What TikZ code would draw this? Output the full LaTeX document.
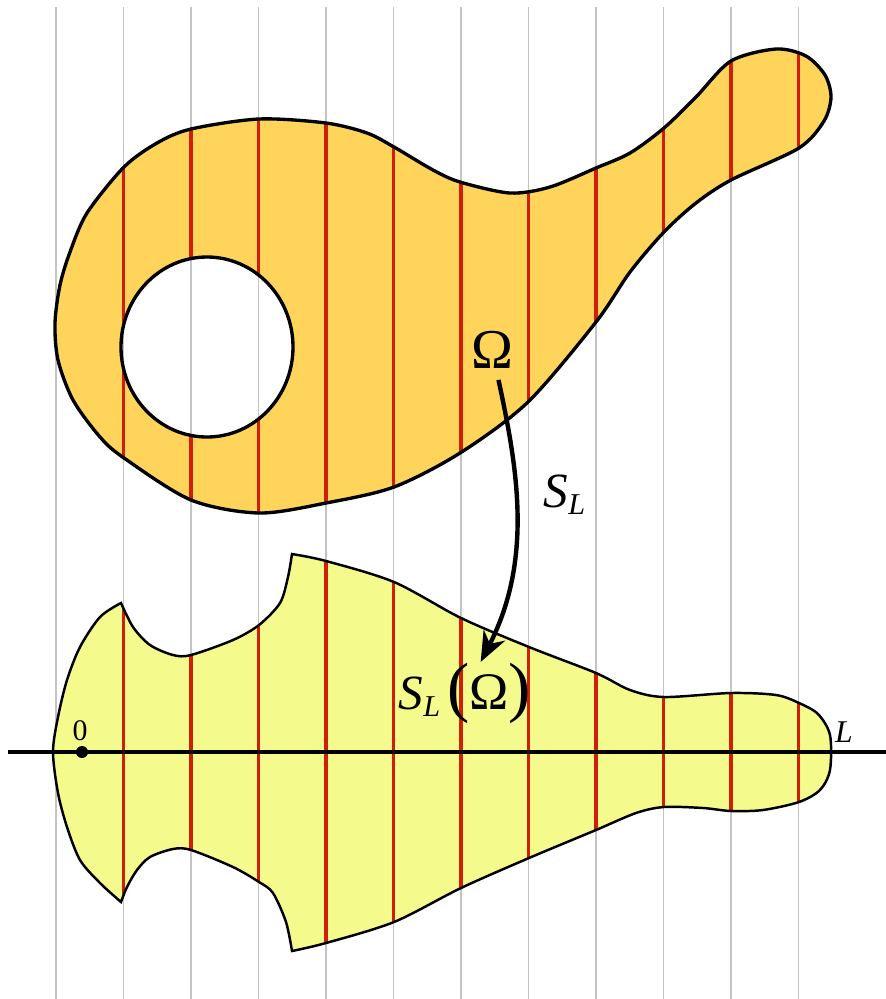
\documentclass[tikz,border=0pt]{standalone}
\usepackage{fontspec}
\setmainfont{Liberation Serif}
\usepackage{xcolor}
\definecolor{omorange}{HTML}{FED45A}
\definecolor{omyellow}{HTML}{F4FB8C}
\definecolor{omred}{HTML}{D01E0A}
\definecolor{omgrid}{HTML}{C4C4C4}
\usetikzlibrary{arrows.meta}

%% outline of Omega and of its image
\def\topshape{plot[smooth cycle] coordinates {(55,323) (60,285) (70,252) (87,213)
  (124,167) (157,143) (191,129) (259,119) (326,123) (367,133) (394,147) (433,170)
  (460,182) (510,193) (550,187) (596,168) (630,153) (664,128) (696,97) (731,61)
  (776,49) (806,56) (825,75) (831,97) (824,121) (799,148) (731,180) (696,203)
  (664,232) (630,272) (596,322) (528,402) (460,453) (394,487) (326,503) (259,513)
  (191,500) (124,458) (100,437) (73,400) (58,360)}}
\def\tophole{(207,347) ellipse [x radius=86, y radius=90]}
\def\botshape{plot[smooth] coordinates {(121,603) (133,627) (150,645) (173,655)
  (191,655) (233,640) (259,625) (280,603) (288,577) (292,554)}
  -- plot[smooth] coordinates {(292,554) (326,561) (394,582) (461,618) (529,647)
  (596,673) (630,690) (664,697) (731,693) (776,695) (799,703) (818,714) (830,735)
  (830,770) (820,790) (799,802) (763,810) (731,811) (703,808) (664,807) (636,813)
  (596,830) (529,858) (461,888) (394,922) (326,943) (292,951)}
  -- plot[smooth] coordinates {(292,951) (286,922) (273,893) (259,882) (233,867)
  (191,850) (173,849) (150,857) (137,870) (127,887) (121,902)}
  -- plot[smooth] coordinates {(121,902) (100,883) (80,860) (67,827) (58,793)
  (53,752) (58,717) (67,680) (80,647) (100,617) (121,603)} -- cycle}

\begin{document}
\begin{tikzpicture}[x=0.01cm, y=-0.01cm,
  gridline/.style={draw=omgrid, line width=0.55pt},
  cutline/.style={draw=omred, line width=1pt},
  outline/.style={draw=black, line width=0.95pt},
  lbl/.style={inner sep=0pt, text=black},
  maparr/.style={-{Stealth[length=0.3cm, width=0.24cm]}, line width=1.25pt}
]
  \useasboundingbox (0,0) rectangle (886,999);

  %% vertical lines
  \foreach \k in {0,...,11}
    \draw[gridline] ({56+67.5*\k},7) -- ({56+67.5*\k},999);

  %% Omega
  \fill[omorange, even odd rule] \topshape \tophole;
  \begin{scope}[even odd rule]
    \clip \topshape \tophole;
    \foreach \k in {1,...,11}
      \draw[cutline] ({56+67.5*\k},0) -- ({56+67.5*\k},999);
  \end{scope}
  \draw[outline] \topshape;
  \draw[outline] \tophole;

  %% S_L(Omega)
  \fill[omyellow] \botshape;
  \begin{scope}
    \clip \botshape;
    \foreach \k in {1,...,11}
      \draw[cutline] ({56+67.5*\k},0) -- ({56+67.5*\k},999);
  \end{scope}
  \draw[outline, line width=0.7pt] \botshape;

  %% axis
  \coordinate (axl) at (8,752);
  \coordinate (axr) at (886,752);
  \draw[line width=1.3pt] (axl) -- (axr);
  \fill (82,752) circle [radius=6];
  \node[lbl, font=\fontsize{8.5}{9}\selectfont] (zero) at (80,731) {0};
  \node[lbl, font=\fontsize{9}{10}\selectfont\itshape] (ell) at (844,732) {L};

  %% labels and map
  \node[lbl, font=\fontsize{16}{18}\selectfont, inner sep=3pt] (om) at (492,350) {Ω};
  \node[lbl, font=\fontsize{14}{16}\selectfont, anchor=base west] (sl) at (543,507)
    {\itshape S\raisebox{-0.35ex}{\fontsize{8.6}{9}\selectfont L}};
  \node[lbl, font=\fontsize{14}{16}\selectfont, anchor=base west] (slo) at (398,709)
    {\itshape S\raisebox{-0.35ex}{\fontsize{8.6}{9}\selectfont L}%
     \upshape\hspace{2pt}{\fontsize{19}{19}\selectfont(}{\fontsize{15}{16}\selectfont Ω}{\fontsize{19}{19}\selectfont)}};
  \draw[maparr] (om) .. controls (518,470) and (533,560) .. (slo);
\end{tikzpicture}
\end{document}
